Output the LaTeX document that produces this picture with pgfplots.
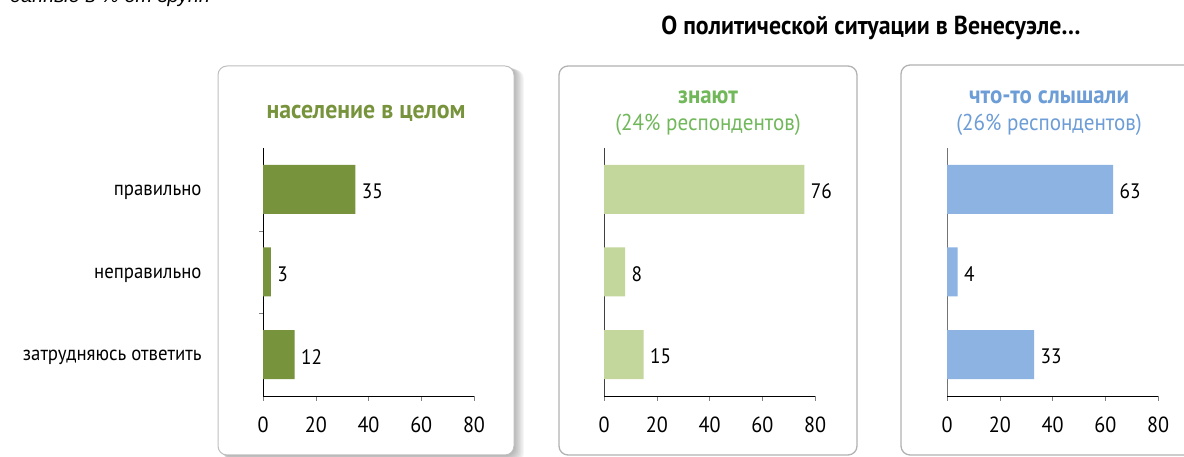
\documentclass[border=0pt]{standalone}
\usepackage{pgfplots}
\pgfplotsset{compat=1.18}
\usepackage{fontspec}
\setmainfont{PT Sans}[FakeStretch=0.92]
\newfontfamily\arialfont{Liberation Sans}
\definecolor{cOlive}{HTML}{77933C}
\definecolor{cLightGreen}{HTML}{C3D69B}
\definecolor{cGreenTitle}{HTML}{70B85A}
\definecolor{cBlue}{HTML}{8DB3E2}
\definecolor{cBlueTitle}{HTML}{6C9DD6}
\definecolor{cBorder}{HTML}{BFBFBF}

\pgfplotstableread{
val pos
35 0
3 1
12 2
}\tabA
\pgfplotstableread{
val pos
76 0
8 1
15 2
}\tabB
\pgfplotstableread{
val pos
63 0
4 1
33 2
}\tabC

\pgfplotsset{
  panel/.style={
    xbar, scale only axis, width=211bp, height=248bp,
    anchor=south west,
    xmin=0, xmax=80, ymin=-0.5, ymax=2.5, y dir=reverse,
    axis x line*=bottom, axis y line*=left,
    xtick={0,20,40,60,80},
    tick align=outside, major tick length=5bp,
    x tick label style={font=\fontsize{22}{22}\selectfont, yshift=-12bp},
    /pgf/number format/assume math mode=true,
    bar width=49bp, clip=false,
    point meta=x, nodes near coords,
    nodes near coords style={font=\fontsize{21}{21}\selectfont, black, xshift=3bp, yshift=-2bp},
    enlargelimits=false,
  }
}

\begin{document}
\begin{tikzpicture}[x=1bp,y=1bp]
\path[use as bounding box] (0,0) rectangle (1184,457);
\clip (0,0) rectangle (1184,457);

% top texts
\node[anchor=base west, inner sep=0pt, font=\arialfont\itshape\fontsize{20}{20}\selectfont] at (10,454) {данные в \% от групп};
\node[anchor=center, inner sep=0pt, font=\bfseries\fontsize{26}{26}\selectfont] at (871,429) {О политической ситуации в Венесуэле\dots};

% shadow panel 1
\foreach \i in {0,...,9} {
  \fill[black, opacity=0.035, rounded corners=9bp] ({218+\i*0.9},{2-\i*0.9}) rectangle ({514+\i*1.1},{391-\i*0.4});
}
\draw[cBorder, line width=1bp, fill=white, rounded corners=9bp] (218,2) rectangle (514,391);
\draw[cBorder!80!gray, line width=1.3bp, fill=white, rounded corners=9bp] (559,2) rectangle (857,391);
\draw[cBorder!80!gray, line width=1.3bp, fill=white, rounded corners=9bp] (901,2) rectangle (1199,392);

% panel titles
\node[font=\bfseries\fontsize{26}{26}\selectfont, text=cOlive] at (366,344) {население в целом};
\node[font=\bfseries\fontsize{25}{25}\selectfont, text=cGreenTitle] at (708,360) {знают};
\node[font=\fontsize{23}{23}\selectfont, text=cGreenTitle] at (708,332) {(24\% респондентов)};
\node[font=\bfseries\fontsize{25}{25}\selectfont, text=cBlueTitle] at (1049,360) {что-то слышали};
\node[font=\fontsize{23}{23}\selectfont, text=cBlueTitle] at (1049,332) {(26\% респондентов)};

\begin{axis}[panel, at={(263bp,61bp)},
  ytick={0,1,2},
  yticklabels={правильно,неправильно,затрудняюсь ответить},
  y tick label style={font=\fontsize{20.5}{20.5}\selectfont, anchor=east, xshift=-53bp, yshift=-3bp},
  major y tick style={draw=none},
  minor ytick={0.5,1.5}, minor tick length=4bp,
  axis line style={black}]
\addplot[fill=cOlive, draw=none] table[x=val, y=pos] {\tabA};
\end{axis}

\begin{axis}[panel, at={(604bp,61bp)}, ytick=\empty,
  axis line style={black!75}, x axis line style={black}]
\addplot[fill=cLightGreen, draw=none] table[x=val, y=pos] {\tabB};
\end{axis}

\begin{axis}[panel, at={(947bp,61bp)}, ytick=\empty,
  y axis line style={black!55}, x axis line style={black}]
\addplot[fill=cBlue, draw=none] table[x=val, y=pos] {\tabC};
\end{axis}
\end{tikzpicture}
\end{document}
